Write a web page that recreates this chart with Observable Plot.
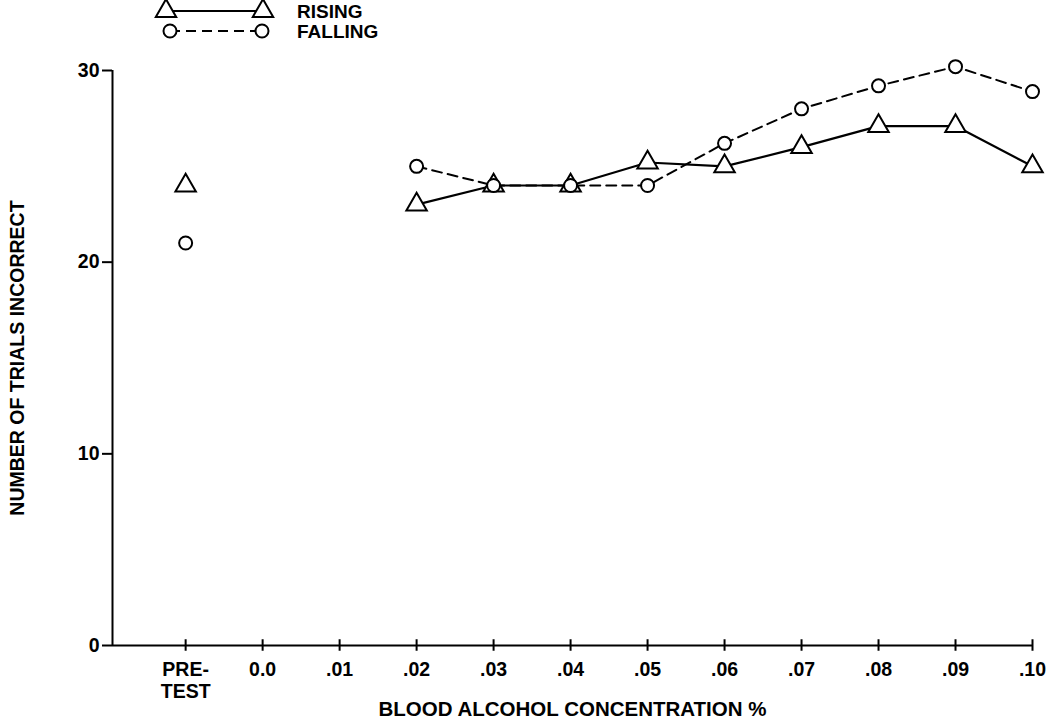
<!DOCTYPE html>
<html>
<head>
<meta charset="utf-8">
<script src="https://cdn.jsdelivr.net/npm/d3@7"></script>
<script src="https://cdn.jsdelivr.net/npm/@observablehq/plot@0.6"></script>
<style>
  body { margin: 0; background: #fff; font-family: "Liberation Sans", Arial, sans-serif; }
  #legend { height: 44px; position: relative; }
  #legend text { font-family: "Liberation Sans", Arial, sans-serif; font-size: 19px; font-weight: bold; }
</style>
</head>
<body>
<div id="legend"></div>
<div id="chart"></div>
<script>
// Categories (x positions 1..12) and tick labels
const tickLabels = ["PRE-\nTEST", "0.0", ".01", ".02", ".03", ".04", ".05", ".06", ".07", ".08", ".09", ".10"];
const tickPositions = [1, 2, 3, 4, 5, 6, 7, 8, 9, 10, 11, 12];
// Series values (null = no observation)
const rising  = [24, null, null, 23, 24, 24, 25.2, 25, 26, 27.1, 27.1, 25];
const falling = [21, null, null, 25, 24, 24, 24, 26.2, 28, 29.2, 30.2, 28.9];
const yTicks = [0, 10, 20, 30];
const seriesNames = ["RISING", "FALLING"];

const risingData = tickPositions.map((p, i) => ({pos: p, value: rising[i]}));
const fallingData = tickPositions.map((p, i) => ({pos: p, value: falling[i]}));
const xMin = 0.05;

const font = "Liberation Sans, Arial, sans-serif";

// Legend (SVG above the plot)
const lg = d3.select("#legend").append("svg").attr("width", 1052).attr("height", 44);
const tri = d3.symbol(d3.symbolTriangle, 180)();
const row1 = lg.append("g").attr("transform", "translate(0,11)");
row1.append("line").attr("x1", 166).attr("x2", 263).attr("y1", 0).attr("y2", 0).attr("stroke", "#000").attr("stroke-width", 2.2);
[166, 263].forEach(x => row1.append("path").attr("d", tri).attr("transform", `translate(${x},0)`).attr("fill", "#fff").attr("stroke", "#000").attr("stroke-width", 2));
row1.append("text").attr("x", 297).attr("y", 6.5).text(seriesNames[0]);
const row2 = lg.append("g").attr("transform", "translate(0,31)");
row2.append("line").attr("x1", 170).attr("x2", 262).attr("y1", 0).attr("y2", 0).attr("stroke", "#000").attr("stroke-width", 2).attr("stroke-dasharray", "10,6");
[170, 262].forEach(x => row2.append("circle").attr("cx", x).attr("cy", 0).attr("r", 6.5).attr("fill", "#fff").attr("stroke", "#000").attr("stroke-width", 2));
row2.append("text").attr("x", 297).attr("y", 6.5).text(seriesNames[1]);

const chart = Plot.plot({
  width: 1052,
  height: 677,
  marginLeft: 112,
  marginRight: 20,
  marginTop: 26,
  marginBottom: 76,
  style: {fontFamily: font, fontSize: "19.5px", fontWeight: "bold", color: "#000", background: "#fff"},
  x: {type: "linear", domain: [xMin, 12]},
  y: {domain: [0, 30]},
  marks: [
    Plot.axisX({ticks: tickPositions, tickFormat: (d) => tickLabels[tickPositions.indexOf(d)], tickSize: 0, tickPadding: 15,
      fontSize: 19.5, lineHeight: 1.12, label: null}),
    Plot.axisX({ticks: [], tickSize: 0, fontSize: 20.5,
      label: "BLOOD ALCOHOL CONCENTRATION %", labelAnchor: "center", labelOffset: 70, labelArrow: "none"}),
    Plot.axisY({ticks: yTicks, tickSize: 10, tickPadding: 3, strokeWidth: 2, fontSize: 19.5,
      label: "NUMBER OF TRIALS INCORRECT", labelAnchor: "center", labelOffset: 102, labelArrow: "none"}),
    Plot.ruleX(tickPositions, {y1: -0.3, y2: 0.3, stroke: "#000", strokeWidth: 2}),
    Plot.ruleY([0], {stroke: "#000", strokeWidth: 2}),
    Plot.ruleX([xMin], {y1: 0, y2: 30, stroke: "#000", strokeWidth: 2}),
    Plot.line(risingData, {x: "pos", y: "value", stroke: "#000", strokeWidth: 2.2}),
    Plot.line(fallingData, {x: "pos", y: "value", stroke: "#000", strokeWidth: 2, strokeDasharray: "10,6"}),
    Plot.dot(risingData.filter(d => d.value != null), {x: "pos", y: "value", symbol: "triangle", r: 7.6, fill: "#fff", stroke: "#000", strokeWidth: 2}),
    Plot.dot(fallingData.filter(d => d.value != null), {x: "pos", y: "value", symbol: "circle", r: 6.5, fill: "#fff", stroke: "#000", strokeWidth: 2})
  ]
});
document.getElementById("chart").appendChild(chart);
</script>
</body>
</html>
